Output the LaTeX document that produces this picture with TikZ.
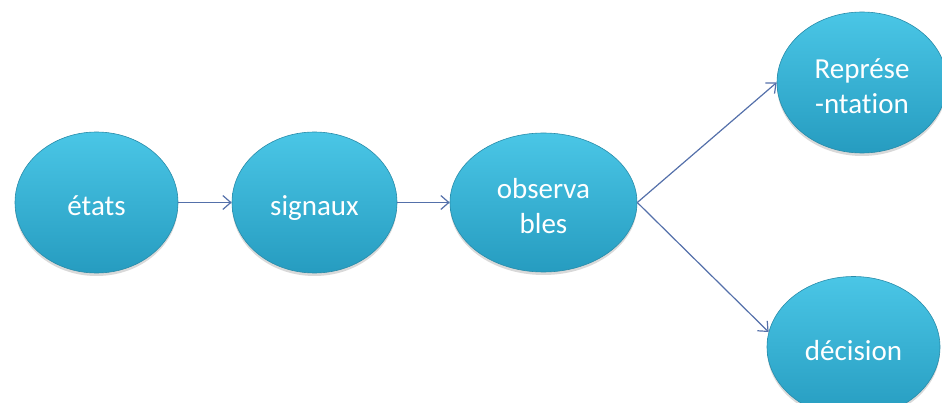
\documentclass[tikz,border=0pt]{standalone}
\usepackage{fontspec}
\setmainfont{Carlito}[Ligatures={NoCommon}]
\usetikzlibrary{shapes.geometric,shadows,arrows.meta}
\definecolor{bubtop}{RGB}{74,198,230}
\definecolor{bubbot}{RGB}{38,156,192}
\definecolor{bubline}{RGB}{40,140,170}
\definecolor{arrcol}{RGB}{84,112,170}
\newcommand\bubtext[1]{\raisebox{0pt}[\dimexpr\height+13pt\relax][\depth]{\begin{tabular}{@{}c@{}}#1\end{tabular}}}
\tikzset{
  bubble/.style={ellipse, inner sep=0pt, top color=bubtop, bottom color=bubbot,
    draw=bubline, line width=0.6pt, text=white, align=center,
    font=\fontsize{29}{35}\selectfont,
    drop shadow={shadow xshift=0pt, shadow yshift=-3pt, opacity=0.25, fill=black!60}},
  arr/.style={draw=arrcol, line width=1.2pt, -{Straight Barb[length=8pt,width=14pt,line width=1.2pt]}}
}
\begin{document}
\begin{tikzpicture}[x=1pt,y=1pt]
\useasboundingbox (0,0) rectangle (942,-403);
\node[bubble, minimum width=163pt, minimum height=141pt] (etats) at (96.5,-202.5) {\bubtext{états}};
\node[bubble, minimum width=165pt, minimum height=141pt] (signaux) at (314.5,-202.5) {\bubtext{signaux}};
\node[bubble, minimum width=187pt, minimum height=139pt] (obs) at (543.5,-202.5) {\bubtext{observa\\bles}};
\node[bubble, minimum width=170pt, minimum height=141pt] (repr) at (862,-82.5) {\bubtext{Représe\\-ntation}};
\node[bubble, minimum width=173pt, minimum height=141pt] (dec) at (853.5,-347) {\bubtext{décision}};
\draw[arr] (etats.east) -- (signaux.west);
\draw[arr] (signaux.east) -- (obs.west);
\draw[arr] (obs.east) -- (repr.west);
\draw[arr] (obs.east) -- (dec.170);
\end{tikzpicture}
\end{document}
